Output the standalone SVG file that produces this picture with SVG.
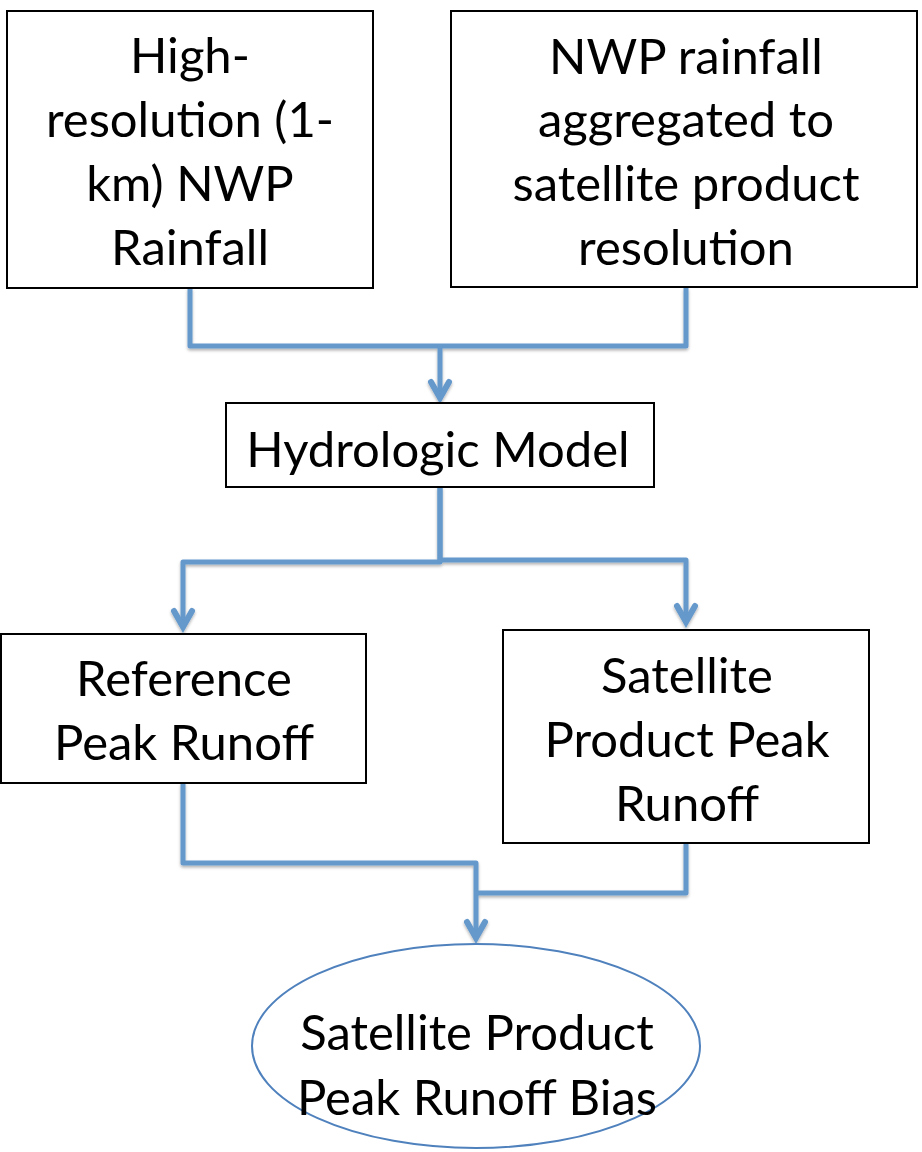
<svg xmlns="http://www.w3.org/2000/svg" width="922" height="1152" viewBox="0 0 922 1152">
  <defs>
    <filter id="soft" x="-10%" y="-10%" width="120%" height="130%">
      <feDropShadow dx="0" dy="2" stdDeviation="1.5" flood-color="#000" flood-opacity="0.3"/>
    </filter>
  </defs>
  <style>
    .box { fill: #ffffff; stroke: #000000; stroke-width: 2; }
    .oval { fill: #ffffff; stroke: #4f81bd; stroke-width: 2; }
    .lbl { font-family: "Lato", "Liberation Sans", sans-serif; font-size: 49px; fill: #000000; text-anchor: middle; }
    .wire { fill: none; stroke: #6598cb; stroke-width: 5; stroke-linejoin: round; stroke-linecap: butt; }
    .head { fill: none; stroke: #6598cb; stroke-width: 6; stroke-linejoin: miter; stroke-miterlimit: 10; stroke-linecap: round; }
  </style>

  <!-- connectors -->
  <g id="connectors" filter="url(#soft)">
    <path class="wire" d="M190,288 V346 H686 V288"/>
    <path class="wire" d="M440,346 V398"/>
    <polyline class="head" points="431,382 440,398 449,382"/>

    <path class="wire" d="M440,487 V562 H183 V627"/>
    <polyline class="head" points="174,611 183,627 192,611"/>
    <path class="wire" d="M440,487 V560 H686 V622"/>
    <polyline class="head" points="677,606 686,622 695,606"/>

    <path class="wire" d="M183,783 V863 H476 V938"/>
    <path class="wire" d="M686,843 V893 H476"/>
    <polyline class="head" points="467,922 476,938 485,922"/>
  </g>

  <g id="node-highres">
    <rect class="box" x="7" y="11" width="366" height="277"/>
    <text class="lbl" x="190" y="73">High-</text>
    <text class="lbl" x="190" y="137">resolution (1-</text>
    <text class="lbl" x="190" y="201">km) NWP</text>
    <text class="lbl" x="190" y="265">Rainfall</text>
  </g>

  <g id="node-aggregated">
    <rect class="box" x="451" y="11" width="466" height="276"/>
    <text class="lbl" x="686" y="74">NWP rainfall</text>
    <text class="lbl" x="686" y="137">aggregated to</text>
    <text class="lbl" x="686" y="201">satellite product</text>
    <text class="lbl" x="686" y="265">resolution</text>
  </g>

  <g id="node-hydro">
    <rect class="box" x="226" y="403" width="428" height="84"/>
    <text class="lbl" x="438" y="467">Hydrologic Model</text>
  </g>

  <g id="node-reference">
    <rect class="box" x="1" y="634" width="365" height="149"/>
    <text class="lbl" x="184" y="696">Reference</text>
    <text class="lbl" x="184" y="760">Peak Runoff</text>
  </g>

  <g id="node-satellite">
    <rect class="box" x="503" y="630" width="366" height="213"/>
    <text class="lbl" x="687" y="693">Satellite</text>
    <text class="lbl" x="687" y="757">Product Peak</text>
    <text class="lbl" x="687" y="821">Runoff</text>
  </g>

  <g id="node-bias">
    <ellipse class="oval" cx="476" cy="1046" rx="224" ry="102"/>
    <text class="lbl" x="477" y="1050">Satellite Product</text>
    <text class="lbl" x="477" y="1115">Peak Runoff Bias</text>
  </g>
</svg>
